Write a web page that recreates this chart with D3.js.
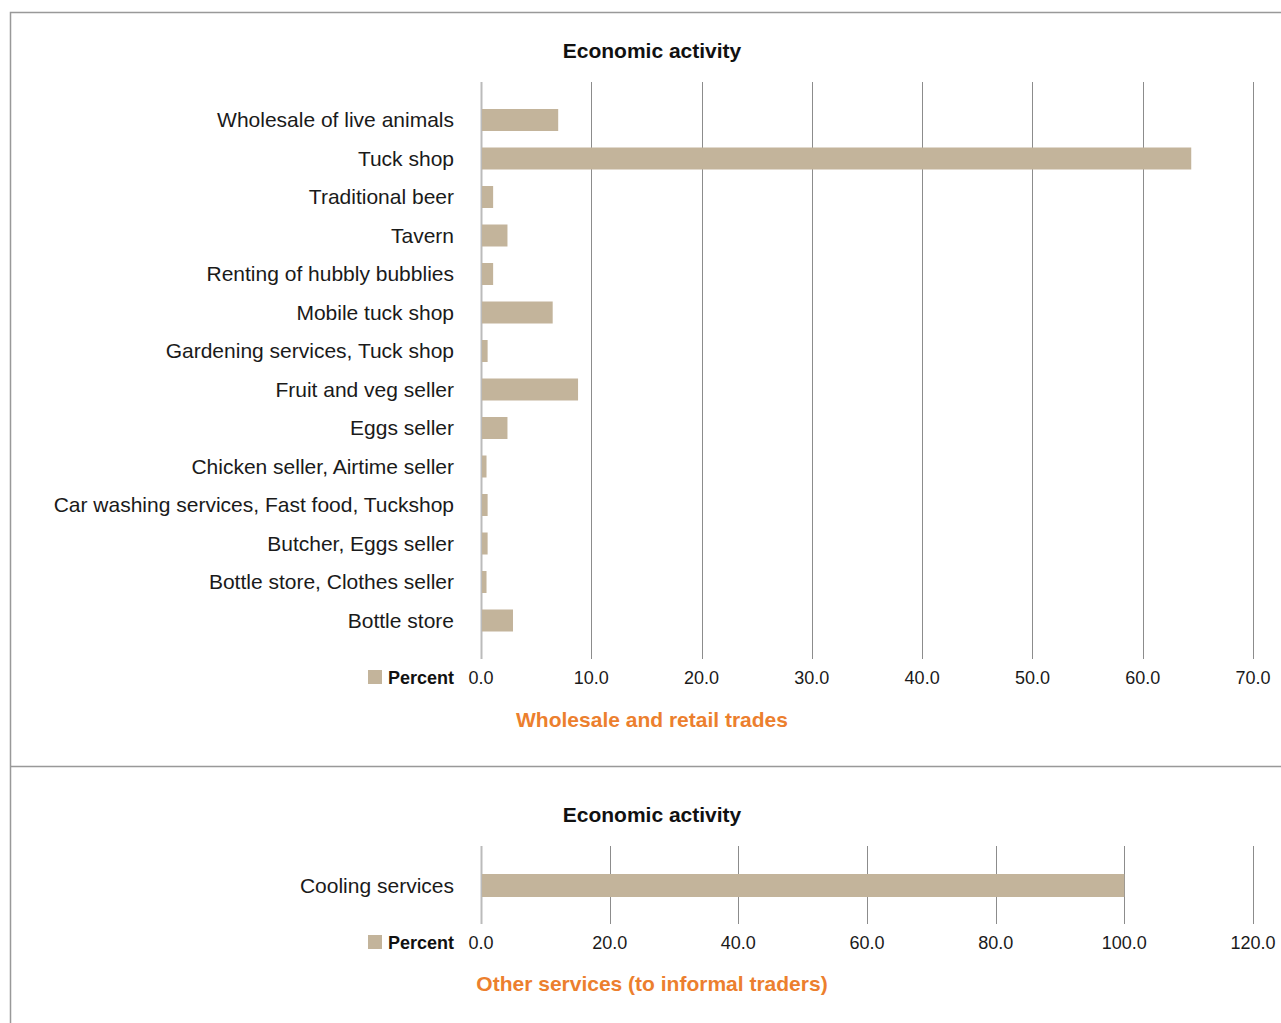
<!DOCTYPE html>
<html>
<head>
<meta charset="utf-8">
<title>Economic activity</title>
<script src="https://cdn.jsdelivr.net/npm/d3@7"></script>
<style>
  body { margin: 0; background: #fff; }
  text { font-family: "Liberation Sans", Arial, sans-serif; }
</style>
</head>
<body>
<script>
// wholesale and retail trades
var tradeCats = ["Wholesale of live animals", "Tuck shop", "Traditional beer", "Tavern",
  "Renting of hubbly bubblies", "Mobile tuck shop", "Gardening services, Tuck shop",
  "Fruit and veg seller", "Eggs seller", "Chicken seller, Airtime seller",
  "Car washing services, Fast food, Tuckshop", "Butcher, Eggs seller",
  "Bottle store, Clothes seller", "Bottle store"];
var tradeVals = [7.0, 64.4, 1.1, 2.4, 1.1, 6.5, 0.6, 8.8, 2.4, 0.5, 0.6, 0.6, 0.5, 2.9];
var tradeTicks = [0, 10, 20, 30, 40, 50, 60, 70];

// other services
var serviceCats = ["Cooling services"];
var serviceVals = [100.0];
var serviceTicks = [0, 20, 40, 60, 80, 100, 120];

var width = 1281, height = 1023;
var barColor = "#c3b49b";
var orange = "#ec7f2e";

var svg = d3.select("body").append("svg")
  .attr("width", width)
  .attr("height", height);

// panel frame
svg.append("path")
  .attr("d", "M10.5,1023 L10.5,12.5 L1281,12.5")
  .attr("fill", "none").attr("stroke", "#999").attr("stroke-width", 1.5);
svg.append("line")
  .attr("x1", 10).attr("x2", 1281).attr("y1", 766.5).attr("y2", 766.5)
  .attr("stroke", "#999").attr("stroke-width", 1.5);

// top/bottom = span of the bars, gridTop/gridBot = gridline span
function drawChart(cfg) {
  var x = d3.scaleLinear().domain([0, cfg.max]).range([481, 1253]);
  var y = d3.scaleBand().domain(cfg.cats).range([cfg.top, cfg.bottom])
    .paddingInner(cfg.pad).paddingOuter(0);
  var g = svg.append("g");

  g.append("text")
    .attr("x", 652).attr("y", cfg.titleY)
    .attr("text-anchor", "middle")
    .attr("font-size", 21).attr("font-weight", "bold").attr("fill", "#111")
    .text("Economic activity");

  // gridlines
  g.selectAll(".grid").data(cfg.ticks).enter().append("line")
    .attr("x1", function(d) { return Math.round(x(d)) + 0.5; })
    .attr("x2", function(d) { return Math.round(x(d)) + 0.5; })
    .attr("y1", cfg.gridTop).attr("y2", cfg.gridBot)
    .attr("stroke", function(d) { return d === 0 ? "#bbb" : "#8c8c8c"; })
    .attr("stroke-width", function(d) { return d === 0 ? 2 : 1; });

  g.selectAll(".bar").data(cfg.vals).enter().append("rect")
    .attr("x", x(0) + 1)
    .attr("y", function(d, i) { return y(cfg.cats[i]); })
    .attr("width", function(d) { return x(d) - x(0) - 1; })
    .attr("height", y.bandwidth())
    .attr("fill", barColor);

  g.selectAll(".cat").data(cfg.cats).enter().append("text")
    .attr("x", 454)
    .attr("y", function(d) { return y(d) + y.bandwidth() / 2; })
    .attr("dy", "0.35em")
    .attr("text-anchor", "end")
    .attr("font-size", 21).attr("fill", "#1a1a1a")
    .text(function(d) { return d; });

  g.selectAll(".tick").data(cfg.ticks).enter().append("text")
    .attr("x", function(d) { return x(d); })
    .attr("y", cfg.tickY)
    .attr("text-anchor", "middle")
    .attr("font-size", 18).attr("fill", "#1a1a1a")
    .text(function(d) { return d3.format(".1f")(d); });

  // legend
  g.append("rect")
    .attr("x", 368).attr("y", cfg.tickY - 14)
    .attr("width", 14).attr("height", 14)
    .attr("fill", barColor);
  g.append("text")
    .attr("x", 454).attr("y", cfg.tickY)
    .attr("text-anchor", "end")
    .attr("font-size", 18).attr("font-weight", "bold").attr("fill", "#111")
    .text("Percent");

  g.append("text")
    .attr("x", 652).attr("y", cfg.subY)
    .attr("text-anchor", "middle")
    .attr("font-size", 21).attr("font-weight", "bold").attr("fill", orange)
    .text(cfg.sub);
}

drawChart({
  cats: tradeCats, vals: tradeVals, ticks: tradeTicks, max: 70,
  top: 109, bottom: 631.5, pad: 0.4286,
  gridTop: 82, gridBot: 659, tickY: 684,
  titleY: 58, subY: 727, sub: "Wholesale and retail trades"
});

drawChart({
  cats: serviceCats, vals: serviceVals, ticks: serviceTicks, max: 120,
  top: 874, bottom: 897, pad: 0,
  gridTop: 846, gridBot: 924, tickY: 949,
  titleY: 822, subY: 991, sub: "Other services (to informal traders)"
});
</script>
</body>
</html>
